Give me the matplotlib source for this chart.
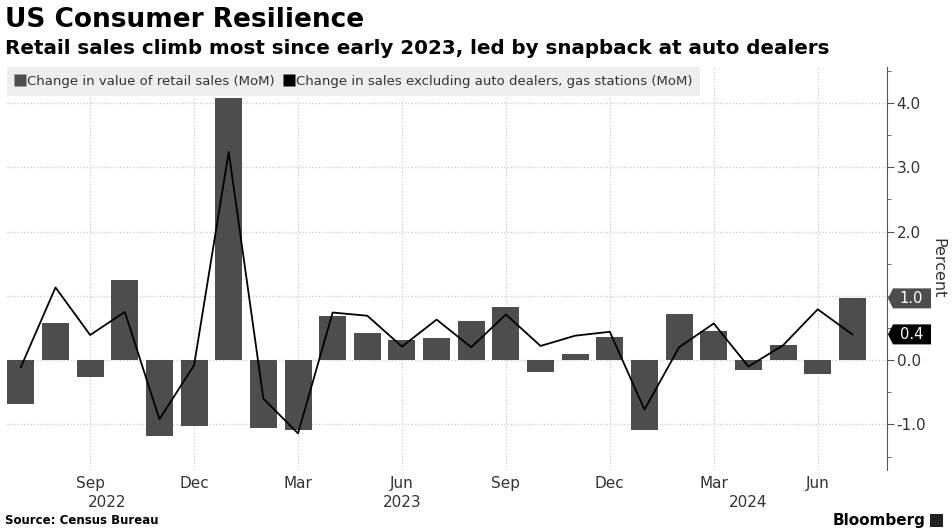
import pandas as pd
import numpy as np
import matplotlib.pyplot as plt
import matplotlib.transforms as mtransforms
from matplotlib.lines import Line2D
from matplotlib.patches import Polygon, Rectangle

# monthly data, Jul 2022 - Jul 2024
months = pd.period_range("2022-07", "2024-07", freq="M")
retail = [-0.68, 0.58, -0.27, 1.25, -1.18, -1.03, 4.07, -1.06, -1.08, 0.68,
          0.42, 0.31, 0.35, 0.61, 0.82, -0.19, 0.10, 0.36, -1.09, 0.71,
          0.46, -0.15, 0.23, -0.22, 0.96]
ex_auto_gas = [-0.11, 1.13, 0.39, 0.75, -0.92, -0.08, 3.24, -0.60, -1.14, 0.74,
               0.69, 0.21, 0.63, 0.20, 0.71, 0.22, 0.38, 0.44, -0.77, 0.20,
               0.57, -0.10, 0.23, 0.79, 0.40]
tick_months = ["Sep", "Dec", "Mar", "Jun"]
year_labels = {"2022": 2.5, "2023": 11.0, "2024": 21.0}
y_ticks = [-1, 0, 1, 2, 3, 4]

bar_color = "#4d4d4d"
x = np.arange(len(months))

fig = plt.figure(figsize=(9.52, 5.29), dpi=100)
W, H = 952, 529
ax = fig.add_axes([7 / W, (H - 470) / H, (887 - 7) / W, (470 - 67) / H])

ax.bar(x, retail, width=0.78, color=bar_color, zorder=2)
ax.plot(x, ex_auto_gas, color="black", lw=1.3, zorder=3)

ax.set_xlim(-0.4, 25.0)
ax.set_ylim(-1.71, 4.56)

# axes styling
for s in ["left", "top", "bottom"]:
    ax.spines[s].set_visible(False)
ax.spines["right"].set_color("#555555")
ax.yaxis.tick_right()
ax.yaxis.set_label_position("right")
ax.set_yticks(y_ticks)
ax.set_yticks(np.arange(-1.5, 4.6, 0.5), minor=True)
# the 1.0 label is hidden behind the value tag in the original
tag_vals = [round(retail[-1], 1), round(ex_auto_gas[-1], 1)]
ax.set_yticklabels(["" if t in tag_vals else f"{t:.1f}" for t in y_ticks])
ax.tick_params(axis="y", which="major", length=5, color="#555555",
               labelsize=11, labelcolor="#333333", pad=2)
ax.tick_params(axis="y", which="minor", length=3, color="#555555")
ax.set_ylabel("Percent", rotation=270, fontsize=11.5, color="#333333", labelpad=14)

tick_pos = [i for i, m in enumerate(months) if m.strftime("%b") in tick_months]
ax.set_xticks(tick_pos)
ax.set_xticklabels([months[i].strftime("%b") for i in tick_pos])
ax.tick_params(axis="x", length=0, labelsize=11, labelcolor="#333333", pad=4)
for yr, pos in year_labels.items():
    ax.text(pos, -0.08, yr, transform=ax.get_xaxis_transform(), ha="center",
            va="center", fontsize=11, color="#333333")

ax.grid(True, which="major", color="#cccccc", linestyle=":", lw=0.9, zorder=0)
ax.set_axisbelow(True)

# legend
handles = [Line2D([], [], marker="s", color="none", markerfacecolor=bar_color,
                  markeredgecolor="none", markersize=8),
           Line2D([], [], marker="s", color="none", markerfacecolor="black",
                  markeredgecolor="none", markersize=8)]
leg = ax.legend(handles, ["Change in value of retail sales (MoM)",
                          "Change in sales excluding auto dealers, gas stations (MoM)"],
                loc="upper left", bbox_to_anchor=(0, 1.0), ncol=2, frameon=True,
                fancybox=False, facecolor="#eeeeee", edgecolor="none", framealpha=1,
                borderaxespad=0, fontsize=9.5, handlelength=0.8, handletextpad=0.1,
                columnspacing=0.7, borderpad=0.6)
for t in leg.get_texts():
    t.set_color("#333333")

# last value tags on the right axis (shape in pixels, anchored at spine/value)
tag = np.array([[1, 0], [6, 10], [44, 10], [44, -10], [6, -10]]) / 100.0
for val, col in [(retail[-1], bar_color), (ex_auto_gas[-1], "black")]:
    tr = fig.dpi_scale_trans + mtransforms.ScaledTranslation(
        1.0, val, ax.get_yaxis_transform())
    ax.add_patch(Polygon(tag, closed=True, fc=col, ec="none", transform=tr,
                         clip_on=False, zorder=5))
    ax.text(0.245, 0.0, f"{val:.1f}", transform=tr, ha="center", va="center",
            fontsize=10.5, color="white", clip_on=False, zorder=6)

# titles and footer
fig.text(5 / W, 1 - 20 / H, "US Consumer Resilience", fontsize=19, fontweight="bold",
         ha="left", va="center")
fig.text(5 / W, 1 - 48 / H,
         "Retail sales climb most since early 2023, led by snapback at auto dealers",
         fontsize=14.3, fontweight="bold", ha="left", va="center")
fig.text(5 / W, 1 - 521 / H, "Source: Census Bureau", fontsize=8.5, fontweight="bold",
         ha="left", va="center")
fig.text(925 / W, 1 - 520 / H, "Bloomberg", fontsize=11, fontweight="bold",
         ha="right", va="center")
fig.patches.append(Rectangle((930 / W, 1 - 527 / H), 13 / W, 13 / H,
                             transform=fig.transFigure, fc="#222222", ec="none"))

fig.savefig("out.png", dpi=100)
